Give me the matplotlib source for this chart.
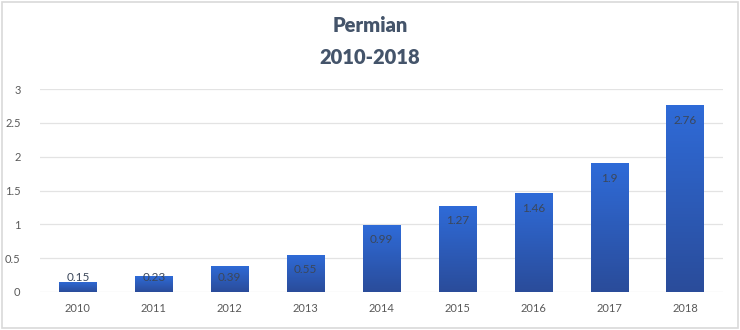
import numpy as np
import matplotlib.pyplot as plt
from matplotlib.colors import LinearSegmentedColormap

years = ["2010", "2011", "2012", "2013", "2014", "2015", "2016", "2017", "2018"]
values = [0.15, 0.23, 0.39, 0.55, 0.99, 1.27, 1.46, 1.9, 2.76]
yticks = [0, 0.5, 1, 1.5, 2, 2.5, 3]
ytick_labels = ["0", "0.5", "1", "1.5", "2", "2.5", "3"]

plt.rcParams['font.family'] = ['Lato', 'DejaVu Sans']

fig = plt.figure(figsize=(7.4, 3.3), dpi=100)
ax = fig.add_axes([40 / 740, 1 - 292 / 330, 683 / 740, 203 / 330])

# light frame round the whole chart
fig.patches.append(plt.Rectangle((0.003, 0.006), 0.994, 0.988, transform=fig.transFigure,
                                 fill=False, edgecolor="#d9d9d9", linewidth=1.2))

x = np.arange(len(years))
bars = ax.bar(x, values, width=0.49, color="none", edgecolor="none", zorder=3)

# vertical gradient: lighter blue at top, darker at bottom
cmap = LinearSegmentedColormap.from_list("blues", ["#2a4c9a", "#2f6bd8"])
grad = np.linspace(0, 1, 256).reshape(-1, 1)
for b in bars:
    x0, w, h = b.get_x(), b.get_width(), b.get_height()
    im = ax.imshow(grad, cmap=cmap, origin="lower", aspect="auto",
                   extent=[x0, x0 + w, 0, h], zorder=3)
    im.set_clip_path(b)

# value labels just inside the top of each bar
for xi, v in zip(x, values):
    ax.text(xi, max(v - 0.22, 0.21), f"{v:g}", ha="center", va="center",
            fontsize=8.5, color="#3b475a", zorder=4)

ax.set_xlim(-0.5, len(years) - 0.5)
ax.set_ylim(0, 3)
ax.set_xticks(x)
ax.set_xticklabels(years)
ax.set_yticks(yticks)
ax.set_yticklabels(ytick_labels)
ax.tick_params(length=0, labelsize=8, labelcolor="#595959")
ax.tick_params(axis="x", pad=8)
ax.tick_params(axis="y", pad=14)
for s in ax.spines.values():
    s.set_visible(False)
ax.grid(axis="y", color="#e3e3e3", linewidth=0.9, zorder=0)
ax.set_axisbelow(True)

fig.text(0.5, 1 - 25 / 330, "Permian", ha="center", va="center",
         fontsize=14.5, fontweight="heavy", color="#44546a")
fig.text(0.5, 1 - 57 / 330, "2010-2018", ha="center", va="center",
         fontsize=14.5, fontweight="heavy", color="#44546a")

fig.savefig("out.png", dpi=100)
